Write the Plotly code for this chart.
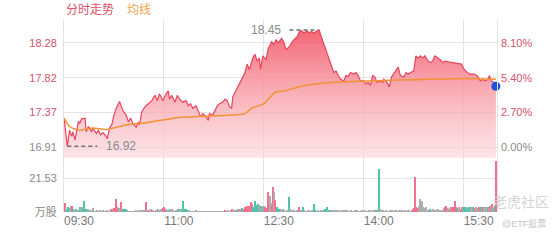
import plotly.graph_objects as go

# ---------------- data ----------------
base_price = 16.91

price_minutes = [
    0, 3, 5, 7, 8, 10, 13, 14, 16, 19,
    20, 22, 25, 26, 29, 31, 33, 35, 38, 39,
    41, 43, 45, 47, 50, 53, 56, 58, 60, 62,
    65, 67, 68, 70, 73, 76, 79, 82, 84, 86,
    89, 92, 94, 95, 97, 100, 102, 104, 107, 110,
    112, 114, 116, 119, 121, 123, 125, 128, 130, 131,
    134, 136, 138, 140, 143, 145, 147, 149, 151, 152,
    155, 157, 160, 163, 165, 167, 170, 172, 174, 176,
    177, 179, 182, 184, 185, 187, 189, 191, 193, 196,
    198, 200, 203, 205, 207, 210, 212, 214, 216, 219,
    221, 223, 225, 228, 230, 231, 234, 236, 238, 240,
    243, 245, 247, 249, 252, 254, 256, 258, 261, 263,
    265, 267, 270, 272, 274, 276, 278, 280, 282, 285,
    287, 288, 291, 293, 295, 297, 300, 301, 303, 306,
    308, 310, 312, 315, 317, 319, 321, 323, 325, 328,
    330, 332, 334, 337, 339, 341, 343, 346, 349, 352,
    355, 358, 360, 363, 366, 369, 372, 375, 377, 379,
    382, 383, 385, 387, 389,
]
prices = [
    17.29, 16.92, 17.13, 17.05, 17.11, 17.00, 17.25, 17.22, 17.28, 17.29,
    17.11, 17.18, 17.11, 17.16, 17.09, 17.13, 17.07, 17.10, 17.05, 17.02,
    17.16, 17.20, 17.33, 17.42, 17.51, 17.39, 17.33, 17.24, 17.29, 17.22,
    17.17, 17.24, 17.20, 17.37, 17.44, 17.48, 17.52, 17.59, 17.52, 17.61,
    17.52, 17.61, 17.65, 17.54, 17.59, 17.50, 17.59, 17.54, 17.50, 17.52,
    17.45, 17.48, 17.42, 17.45, 17.38, 17.31, 17.35, 17.31, 17.26, 17.35,
    17.33, 17.39, 17.45, 17.48, 17.50, 17.54, 17.52, 17.44, 17.42, 17.57,
    17.65, 17.72, 17.80, 17.89, 18.00, 17.93, 18.08, 18.13, 18.04, 18.08,
    17.93, 18.11, 18.06, 18.21, 18.23, 18.30, 18.26, 18.32, 18.28, 18.34,
    18.29, 18.19, 18.23, 18.28, 18.32, 18.36, 18.43, 18.44, 18.41, 18.44,
    18.41, 18.43, 18.41, 18.44, 18.45, 18.39, 18.26, 18.17, 18.08, 18.00,
    17.89, 17.91, 17.85, 17.80, 17.78, 17.85, 17.84, 17.89, 17.87, 17.89,
    17.85, 17.78, 17.78, 17.74, 17.76, 17.72, 17.85, 17.83, 17.76, 17.78,
    17.76, 17.80, 17.76, 17.70, 17.83, 17.87, 17.93, 17.96, 17.85, 17.83,
    17.89, 17.87, 17.89, 17.91, 18.11, 18.08, 18.11, 18.08, 18.11, 18.04,
    18.02, 18.04, 18.11, 18.08, 18.06, 18.02, 18.04, 18.03, 18.02, 18.02,
    18.01, 18.00, 17.94, 17.89, 17.87, 17.87, 17.85, 17.78, 17.80, 17.78,
    17.80, 17.85, 17.78, 17.76, 17.71,
]

avg_minutes = [0, 5, 13, 26, 38, 56, 74, 95, 106, 121, 136, 151, 163, 169,
               175, 180, 186, 190, 199, 211, 226, 241, 256, 274, 300, 331, 361, 389]
avg_prices = [17.29, 17.18, 17.13, 17.16, 17.14, 17.20, 17.23, 17.28, 17.30, 17.31,
              17.32, 17.33, 17.35, 17.42, 17.45, 17.48, 17.57, 17.63, 17.65, 17.70,
              17.74, 17.76, 17.77, 17.78, 17.79, 17.80, 17.81, 17.80]

# volume per minute (万股), 09:30 .. 15:59
volume = [
    5.6, 2.2, 1.5, 3.1, 2.8, 1.6, 3.9, 4.2, 2.0, 1.4,
    2.0, 1.2, 1.0, 1.5, 3.2, 3.5, 2.4, 3.0, 7.3, 2.1,
    1.5, 1.8, 1.0, 1.2, 0.8, 1.5, 2.5, 1.0, 0.8, 1.2,
    0.8, 1.0, 1.2, 0.6, 0.9, 1.4, 0.8, 1.0, 1.2, 0.7,
    1.0, 1.3, 1.8, 2.0, 1.5, 2.6, 8.4, 3.0, 2.5, 2.8,
    1.5, 6.3, 2.0, 1.8, 2.1, 2.2, 1.2, 1.0, 0.8, 0.9,
    0.6, 0.9, 1.0, 0.7, 1.2, 0.8, 1.0, 1.1, 0.9, 1.3,
    1.0, 1.2, 1.5, 6.3, 1.4, 1.0, 1.5, 1.1, 1.8, 1.2,
    1.3, 1.0, 1.6, 1.2, 1.8, 1.5, 1.0, 2.0, 1.4, 2.6,
    3.0, 2.0, 1.2, 1.0, 1.5, 2.0, 1.4, 1.8, 1.2, 1.0,
    1.2, 1.5, 1.8, 1.3, 2.1, 1.5, 2.2, 7.3, 2.0, 1.8,
    1.5, 1.0, 1.2, 0.8, 1.0, 0.6, 0.8, 0.9, 1.2, 0.7,
    0.8, 0.6, 1.0, 0.7, 0.5, 0.8, 0.9, 0.6, 0.7, 1.0,
    0.6, 0.8, 0.7, 0.9, 0.6, 0.5, 0.8, 0.7, 0.6, 0.9,
    1.0, 0.8, 0.6, 0.7, 0.9, 1.2, 0.8, 1.5, 1.0, 0.9,
    1.2, 1.8, 1.0, 1.5, 1.2, 1.6, 2.0, 1.4, 1.8, 1.5,
    2.7, 1.8, 2.0, 3.0, 4.2, 3.6, 4.0, 2.9, 6.7, 5.0,
    3.5, 2.8, 6.9, 4.5, 5.2, 4.8, 3.9, 2.8, 4.2, 3.5,
    4.0, 3.0, 2.5, 13.0, 8.0, 10.4, 6.0, 4.0, 15.7, 12.5,
    8.0, 3.5, 2.0, 2.2, 1.8, 1.5, 1.2, 1.8, 1.4, 1.0,
    1.2, 1.5, 9.8, 2.0, 1.5, 1.2, 1.0, 1.4, 0.9, 1.2,
    1.0, 3.0, 1.2, 0.8, 1.5, 3.5, 1.2, 1.0, 0.8, 1.1,
    1.5, 1.0, 0.8, 1.2, 1.0, 5.2, 1.5, 0.9, 1.2, 1.0,
    0.8, 1.5, 1.0, 1.2, 1.4, 1.8, 3.5, 1.2, 1.6, 1.0,
    1.5, 1.2, 1.4, 1.0, 1.2, 1.5, 1.0, 1.3, 0.8, 1.0,
    1.2, 1.0, 1.4, 1.6, 1.2, 1.0, 0.8, 1.0, 1.2, 0.8,
    1.0, 0.8, 1.2, 1.5, 1.0, 0.8, 0.6, 0.9, 1.2, 1.0,
    0.8, 1.5, 1.0, 0.8, 1.2, 1.6, 1.0, 0.8, 1.2, 1.4,
    1.0, 1.5, 1.2, 27.6, 1.8, 1.2, 1.0, 1.5, 0.8, 1.0,
    1.2, 1.0, 0.8, 1.4, 1.0, 1.2, 0.9, 1.0, 1.5, 1.1,
    1.0, 1.3, 0.8, 1.2, 1.4, 1.0, 0.9, 1.2, 1.0, 1.5,
    1.2, 0.8, 1.0, 1.5, 2.0, 2.5, 22.4, 3.0, 2.5, 4.0,
    8.4, 3.5, 7.3, 3.0, 2.8, 2.0, 3.0, 1.5, 1.2, 2.0,
    1.5, 1.2, 2.0, 1.0, 1.4, 1.2, 2.0, 1.0, 1.5, 0.8,
    1.2, 1.5, 2.5, 3.0, 4.2, 2.5, 2.0, 1.5, 3.0, 2.0,
    3.0, 2.5, 7.3, 3.0, 2.5, 3.5, 2.0, 1.5, 3.0, 2.5,
    3.5, 3.0, 3.5, 2.8, 3.5, 2.5, 3.0, 2.0, 3.0, 2.5,
    2.8, 3.2, 2.5, 3.5, 2.0, 3.0, 2.5, 3.5, 2.8, 3.2,
    3.0, 3.5, 2.5, 4.0, 3.0, 5.2, 3.5, 2.5, 4.0, 32.4,
]
# r = up (red), g = down (green), n = flat (grey)
volume_dirs = (
    "rngggnnrgn" "gnnngngngg" "gnnnnnnngn" "nnnnnnnnnn" "nnnrnrrrrn"
    "nrngggnnnn" "nnnnnnnnnn" "nnnrnnrnnr" "nnrnnngnnr" "rnnngnnnnn"
    "nngnngnggg" "gnnnnnnnnn" "nnnnnnnnnn" "nnnnnnnnnn" "nnnnnrnnnn"
    "nrnnngnrnn" "gnrrrrrrrr" "gggggngnng" "nrrrrnnrrn" "rggggnnnnn"
    "nngnnnnnnn" "nrnnngnnnn" "nnnnnggnnn" "nnnnnggngn" "nnnnnnnnnn"
    "nnnnnnnnnn" "nnnnnnnnnn" "nnnnnnnnnn" "ngngnnnnnn" "nnnnnnnnnn"
    "nnnnnnnnnn" "nnnnrrrrrn" "nnnnnnnnng" "nnnnnnnnnn" "nnnrrnnrrn"
    "rrrrgnnrrn" "gggnggnngn" "rnnrngnrnn" "ngnrnrnngr"
)

price_ticks = [16.91, 17.37, 17.82, 18.28]
pct_tick_labels = ["0.00%", "2.70%", "5.40%", "8.10%"]
time_ticks = [0, 90, 180, 270, 360, 390]
time_labels = ["09:30", "11:00", "12:30", "14:00", "15:30", ""]
vol_tick = 21.53

# ---------------- style ----------------
RED = "#e8455d"
RED_TXT = "#d5506a"
ORANGE = "#f39232"
GRAY_TXT = "#8a8a8a"
GRID = "#e3e3e3"
BLUE = "#1f50dc"
FONT = "Liberation Sans, Arial, Noto Sans CJK SC, sans-serif"
bar_cols = {"r": "rgb(238,100,128)", "g": "rgb(60,188,162)", "n": "rgb(165,165,165)"}

y_range = [16.7675, 18.581]
pct_range = [(v / base_price - 1) * 100 for v in y_range]
vol_range = [0, 34.3]
split = 55 / 195  # volume panel share of plot height

fig = go.Figure()

fig.add_trace(go.Scatter(
    x=price_minutes, y=prices, mode="lines",
    line=dict(color=RED, width=1.2),
    fill="tozeroy",
    fillgradient=dict(type="vertical", start=y_range[0], stop=max(prices),
                      colorscale=[[0, "rgba(251,212,218,0.6)"],
                                  [0.5, "rgba(247,158,166,0.8)"],
                                  [1, "rgba(242,90,106,0.92)"]]),
    xaxis="x", yaxis="y", hoverinfo="skip", showlegend=False))

fig.add_trace(go.Scatter(
    x=avg_minutes, y=avg_prices, mode="lines",
    line=dict(color=ORANGE, width=1.5, shape="spline", smoothing=0.6),
    xaxis="x", yaxis="y", hoverinfo="skip", showlegend=False))

# max / min markers (dashed leader + label)
i_max = prices.index(max(prices))
i_min = prices.index(min(prices))
t_max, p_max = price_minutes[i_max], prices[i_max]
t_min, p_min = price_minutes[i_min], prices[i_min]
fig.add_trace(go.Scatter(
    x=[t_max - 27, t_max - 1], y=[p_max, p_max], mode="lines",
    line=dict(color="#707070", width=1.5, dash="4px,3px"),
    xaxis="x", yaxis="y", hoverinfo="skip", showlegend=False))
fig.add_trace(go.Scatter(
    x=[t_min, t_min + 27], y=[p_min, p_min], mode="lines",
    line=dict(color="#707070", width=1.5, dash="4px,3px"),
    xaxis="x", yaxis="y", hoverinfo="skip", showlegend=False))

fig.add_trace(go.Bar(
    x=list(range(len(volume))), y=volume, offset=0, width=1,
    marker=dict(color=[bar_cols[c] for c in volume_dirs], line=dict(width=0)),
    opacity=0.9, xaxis="x2", yaxis="y2", hoverinfo="skip", showlegend=False))

# percent axis carrier (invisible)
fig.add_trace(go.Scatter(x=[0], y=[0], yaxis="y3", xaxis="x", mode="markers",
                         marker=dict(opacity=0), hoverinfo="skip", showlegend=False))

# last price dot (on top, not clipped)
fig.add_trace(go.Scatter(
    x=[price_minutes[-1]], y=[prices[-1]], mode="markers", cliponaxis=False,
    marker=dict(color=BLUE, size=9),
    xaxis="x", yaxis="y", hoverinfo="skip", showlegend=False))

annotations = [
    dict(text=f"{p_max:.2f}", x=t_max - 33, y=p_max, xref="x", yref="y",
         xanchor="right", yanchor="middle", showarrow=False,
         font=dict(size=12, color=GRAY_TXT, family=FONT)),
    dict(text=f"{p_min:.2f}", x=t_min + 33, y=p_min, xref="x", yref="y",
         xanchor="left", yanchor="middle", showarrow=False,
         font=dict(size=12, color=GRAY_TXT, family=FONT)),
    dict(text="分时走势", x=0, y=1, xref="paper", yref="paper",
         xanchor="left", yanchor="bottom", yshift=1, showarrow=False,
         font=dict(size=12, color="#e0506a", family=FONT)),
    dict(text="均线", x=0, y=1, xref="paper", yref="paper", xshift=61,
         xanchor="left", yanchor="bottom", yshift=1, showarrow=False,
         font=dict(size=12, color="#f2a24a", family=FONT)),
    dict(text="老虎社区", x=1, y=0, xref="paper", yref="paper", xshift=-6,
         xanchor="left", yanchor="bottom", yshift=0, showarrow=False,
         font=dict(size=14, color="#d4d4d4", family=FONT)),
    dict(text="@ETF股票", x=1, y=0, xref="paper", yref="paper", xshift=3,
         xanchor="left", yanchor="top", yshift=-5, showarrow=False,
         font=dict(size=9, color="#c4c4c4", family=FONT)),
]

price_ticktext = [f'<span style="color:{GRAY_TXT}">{price_ticks[0]:.2f}</span>'] + \
                 [f"{v:.2f}" for v in price_ticks[1:]]
pct_tickvals = [(v / base_price - 1) * 100 for v in price_ticks]
pct_ticktext = [f'<span style="color:{GRAY_TXT}">{pct_tick_labels[0]}</span>'] + pct_tick_labels[1:]

fig.update_layout(
    width=560, height=240, autosize=False,
    margin=dict(l=64, r=63, t=20, b=25),
    paper_bgcolor="white", plot_bgcolor="white",
    font=dict(family=FONT, size=11, color=GRAY_TXT),
    bargap=0, showlegend=False,
    annotations=annotations,
    xaxis=dict(domain=[0, 1], anchor="y", range=[0, 390], tickvals=time_ticks,
               showticklabels=False, showgrid=True, gridcolor=GRID, gridwidth=1,
               zeroline=False, showline=False, ticks=""),
    xaxis2=dict(domain=[0, 1], anchor="y2", range=[0, 390], tickvals=time_ticks,
                ticktext=time_labels, showgrid=True, gridcolor=GRID, gridwidth=1,
                zeroline=False, showline=False, ticks="", ticklabelshift=15,
                tickfont=dict(size=12, color="#777777")),
    yaxis=dict(domain=[split, 1], anchor="x", range=y_range, tickvals=price_ticks,
               ticktext=price_ticktext, showgrid=True, gridcolor=GRID,
               zeroline=False, showline=True, mirror=True, linecolor=GRID,
               ticks="", ticklabelstandoff=4,
               tickfont=dict(size=11, color=RED_TXT)),
    yaxis3=dict(overlaying="y", side="right", anchor="x", range=pct_range,
                tickvals=pct_tickvals, ticktext=pct_ticktext, showgrid=False,
                zeroline=False, showline=False, ticks="", ticklabelstandoff=3,
                tickfont=dict(size=11, color=RED_TXT)),
    yaxis2=dict(domain=[0, split], anchor="x2", range=vol_range,
                tickvals=[0, vol_tick], ticktext=["万股", f"{vol_tick:.2f}"],
                showgrid=True, gridcolor=GRID, zeroline=True,
                zerolinecolor="rgba(0,0,0,0)", showline=True, mirror=True,
                linecolor=GRID, ticks="", ticklabelstandoff=4,
                tickfont=dict(size=11, color="#888888")),
)

fig.write_html("out.html")
